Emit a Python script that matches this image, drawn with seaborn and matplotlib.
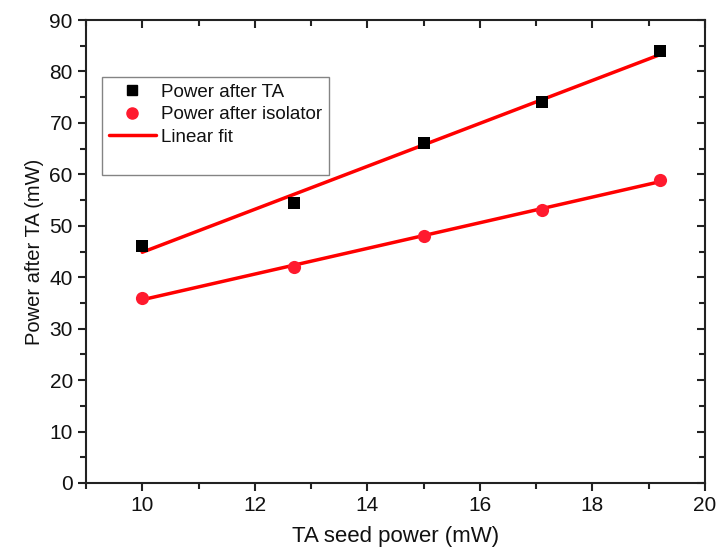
import numpy as np
import pandas as pd
import matplotlib
matplotlib.use("Agg")
import matplotlib.pyplot as plt
import seaborn as sns
from matplotlib.ticker import MultipleLocator
from matplotlib.lines import Line2D

seed_power = [10.0, 12.7, 15.0, 17.1, 19.2]
power_after_ta = [46.0, 54.5, 66.0, 74.0, 84.0]
power_after_isolator = [36.0, 42.0, 48.0, 53.0, 59.0]

sns.set_style("ticks")
plt.rcParams['font.family'] = ['Liberation Sans', 'DejaVu Sans']

fig = plt.figure(figsize=(7.19, 5.57), dpi=100)
ax = fig.add_axes([0.1196, 0.1329, 0.8609, 0.8311])

df_ta = pd.DataFrame({"x": seed_power, "y": power_after_ta})
df_iso = pd.DataFrame({"x": seed_power, "y": power_after_isolator})

# linear fits computed from data
xs = np.array(seed_power)
fit_ta = np.polyval(np.polyfit(xs, power_after_ta, 1), xs)
fit_iso = np.polyval(np.polyfit(xs, power_after_isolator, 1), xs)

sns.lineplot(x=seed_power, y=fit_ta, ax=ax, color='#ff0000', lw=2.5, zorder=2)
sns.lineplot(x=seed_power, y=fit_iso, ax=ax, color='#ff0000', lw=2.5, zorder=2)
sns.scatterplot(data=df_ta, x="x", y="y", ax=ax, marker='s', color='black', s=70,
                edgecolor='black', linewidth=0, zorder=3)
sns.scatterplot(data=df_iso, x="x", y="y", ax=ax, marker='o', color='#ff1a2e', s=90,
                edgecolor='#ff1a2e', linewidth=0, zorder=3)

ax.set_xlim(9, 20)
ax.set_ylim(0, 90)
ax.xaxis.set_major_locator(MultipleLocator(2))
ax.xaxis.set_minor_locator(MultipleLocator(1))
ax.yaxis.set_major_locator(MultipleLocator(10))
ax.yaxis.set_minor_locator(MultipleLocator(5))

ax.tick_params(which='both', direction='out', width=1.5, labelsize=15, color='#222222',
               labelcolor='#111111')
ax.tick_params(which='major', length=6)
ax.tick_params(which='minor', length=4)
ax.tick_params(which='both', top=True, right=True, labeltop=False, labelright=False)
for t in ax.xaxis.get_major_ticks() + ax.xaxis.get_minor_ticks():
    t.tick2line.set_marker(3)  # inward on top
for t in ax.yaxis.get_major_ticks() + ax.yaxis.get_minor_ticks():
    t.tick2line.set_marker(0)  # inward on right

for sp in ax.spines.values():
    sp.set_linewidth(1.5)
    sp.set_color('#222222')

ax.set_xlabel("TA seed power (mW)", fontsize=16, labelpad=8, color='#111111')
ax.set_ylabel("Power after TA (mW)", fontsize=14.5, labelpad=4, color='#111111')

handles = [
    Line2D([], [], marker='s', color='black', linestyle='none', markersize=7),
    Line2D([], [], marker='o', color='#ff1a2e', linestyle='none', markersize=8),
    Line2D([], [], color='#ff0000', lw=2.5),
    Line2D([], [], color='none'),
]
labels = ["Power after TA", "Power after isolator", "Linear fit", " "]
leg = ax.legend(handles, labels, loc='upper left', bbox_to_anchor=(0.026, 0.877),
                fontsize=13.5, frameon=True, fancybox=False, edgecolor='#666666',
                borderpad=0.35, labelspacing=0.29, handlelength=2.5, handletextpad=0.3,
                borderaxespad=0.0)
leg.get_frame().set_linewidth(1.0)
for txt in leg.get_texts():
    txt.set_color('#111111')

fig.savefig("out.png", dpi=100)
